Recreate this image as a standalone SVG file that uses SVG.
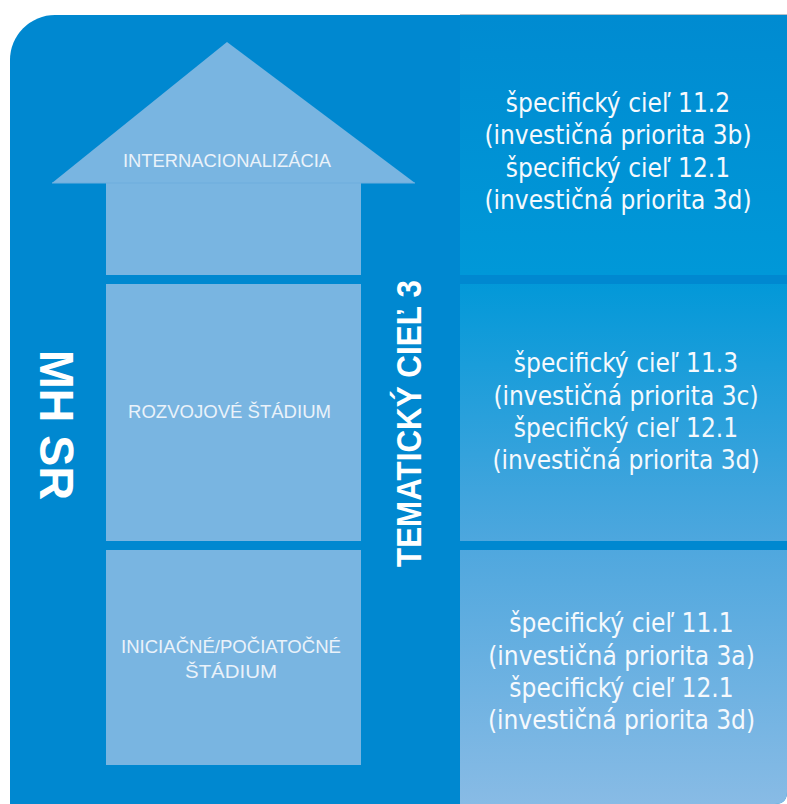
<svg xmlns="http://www.w3.org/2000/svg" width="787" height="804" viewBox="0 0 787 804">
<defs>
<linearGradient id="pg" gradientUnits="userSpaceOnUse" x1="0" y1="15" x2="0" y2="804">
<stop offset="0" stop-color="#008BD1"/>
<stop offset="0.33" stop-color="#0098D8"/>
<stop offset="0.67" stop-color="#4EA7DE"/>
<stop offset="1" stop-color="#88BBE5"/>
</linearGradient>
<style>
.house{fill:#79B5E1}
.ht{font-family:"Liberation Sans",Arial,sans-serif;font-size:18.5px;fill:#EAF2FA;text-anchor:middle}
.pt{font-family:"DejaVu Sans Condensed","DejaVu Sans",sans-serif;font-stretch:condensed;font-size:26px;fill:#F5F9FD;text-anchor:middle}
.vt{font-family:"Liberation Sans",Arial,sans-serif;font-weight:bold;fill:#FFFFFF}
</style>
</defs>
<rect width="787" height="804" fill="#FFFFFF"/>
<g id="background">
<path d="M10,60 A45,45 0 0 1 55,15 L787,15 L787,792 Q787,804 775,804 L10,804 Z" fill="#0088D0"/>
<line x1="460" y1="14.5" x2="787" y2="14.5" stroke="#8A9AA8" stroke-width="1" opacity="0.6"/>
</g>
<g id="panel-top">
<rect x="460" y="15" width="327" height="260" fill="url(#pg)"/>
<text class="pt" x="618" y="112">špecifický cieľ 11.2</text>
<text class="pt" x="618" y="144">(investičná priorita 3b)</text>
<text class="pt" x="618" y="176.5">špecifický cieľ 12.1</text>
<text class="pt" x="618" y="208.5">(investičná priorita 3d)</text>
</g>
<g id="panel-middle">
<rect x="460" y="284" width="327" height="257" fill="url(#pg)"/>
<text class="pt" x="626" y="372">špecifický cieľ 11.3</text>
<text class="pt" x="626" y="404.5">(investičná priorita 3c)</text>
<text class="pt" x="626" y="437">špecifický cieľ 12.1</text>
<text class="pt" x="626" y="469">(investičná priorita 3d)</text>
</g>
<g id="panel-bottom">
<path d="M460,550 L787,550 L787,792 Q787,804 775,804 L460,804 Z" fill="url(#pg)"/>
<text class="pt" x="621.5" y="632">špecifický cieľ 11.1</text>
<text class="pt" x="621.5" y="664.5">(investičná priorita 3a)</text>
<text class="pt" x="621.5" y="697">špecifický cieľ 12.1</text>
<text class="pt" x="621.5" y="729">(investičná priorita 3d)</text>
</g>
<g id="internacionalizacia">
<polygon class="house" points="227,42 415,183 52,183"/>
<rect class="house" x="106" y="183" width="255" height="92"/>
<line x1="52" y1="183" x2="415" y2="183" stroke="#6EAEDD" stroke-width="1.2"/>
<text class="ht" x="227" y="167" textLength="208" lengthAdjust="spacingAndGlyphs">INTERNACIONALIZÁCIA</text>
</g>
<g id="rozvojove">
<rect class="house" x="106" y="284" width="255" height="257"/>
<text class="ht" x="229.5" y="418" textLength="203" lengthAdjust="spacingAndGlyphs">ROZVOJOVÉ ŠTÁDIUM</text>
</g>
<g id="iniciacne">
<rect class="house" x="106" y="550" width="255" height="215"/>
<text class="ht" x="231" y="653" textLength="220" lengthAdjust="spacingAndGlyphs">INICIAČNÉ/POČIATOČNÉ</text>
<text class="ht" x="231" y="678" textLength="92" lengthAdjust="spacingAndGlyphs">ŠTÁDIUM</text>
</g>
<g id="mh-sr">
<text class="vt" font-size="48" transform="translate(40,350) rotate(90)" textLength="150" lengthAdjust="spacingAndGlyphs">MH SR</text>
</g>
<g id="tematicky-ciel">
<text class="vt" font-size="35" transform="translate(420.5,567) rotate(-90)" textLength="287" lengthAdjust="spacingAndGlyphs">TEMATICKÝ CIEĽ 3</text>
</g>
<g id="connectors"/>
</svg>
